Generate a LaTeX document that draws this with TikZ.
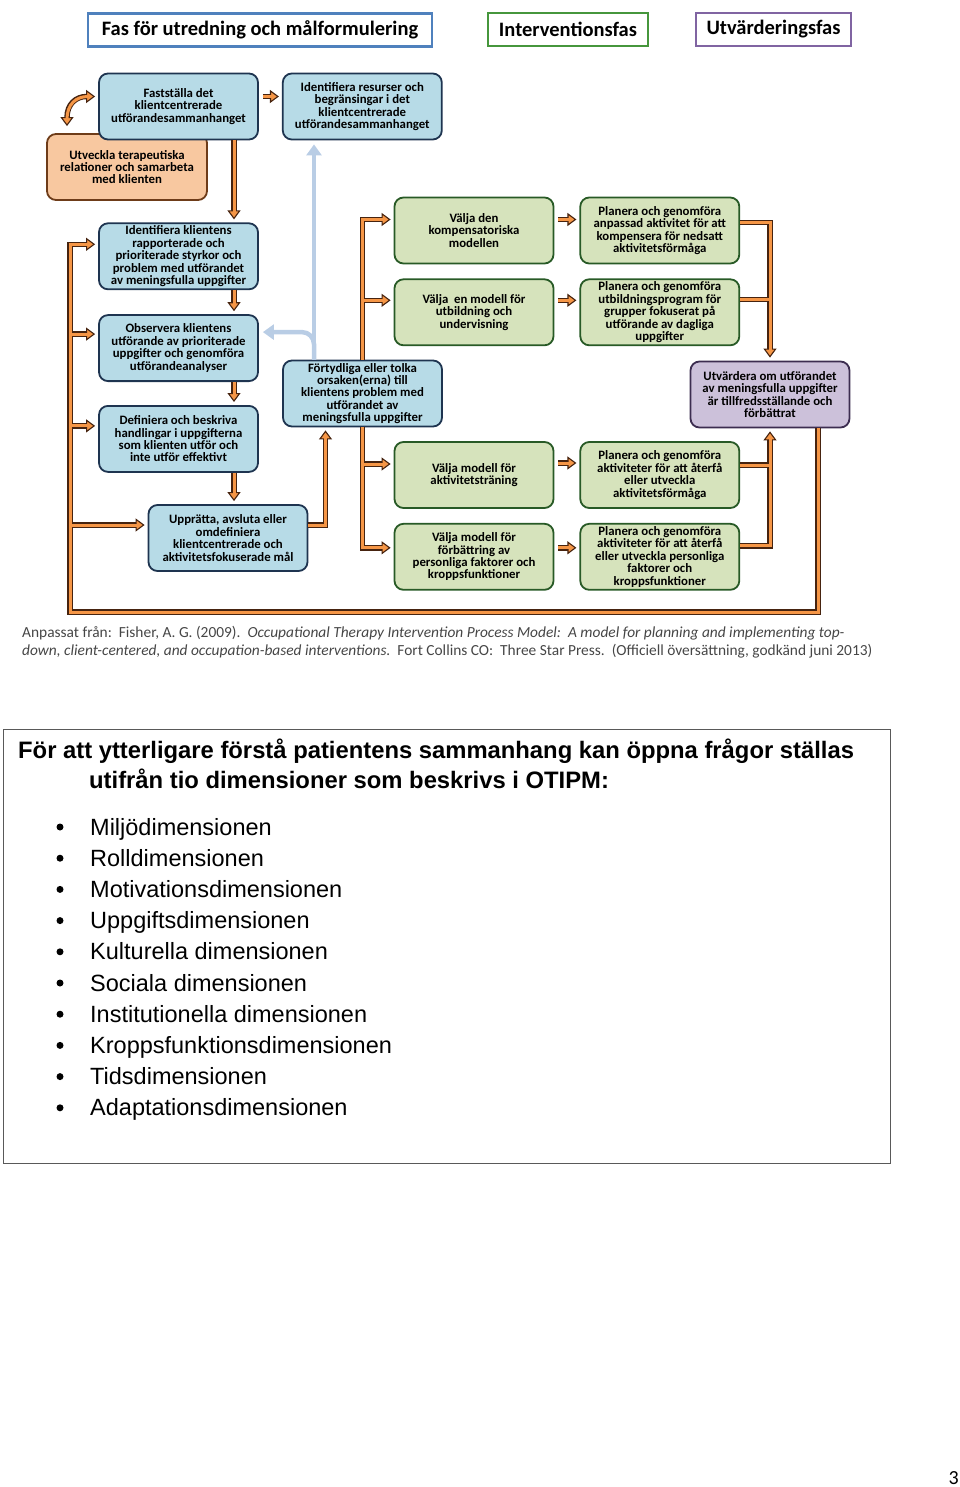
\documentclass[tikz,border=0pt]{standalone}
\usepackage{fontspec}
\setmainfont{Carlito}
\newfontfamily\arialfont{Liberation Sans}
\usetikzlibrary{arrows.meta, positioning, calc}

\definecolor{boxblue}{RGB}{183,219,231}
\definecolor{edgeblue}{RGB}{30,52,80}
\definecolor{boxgreen}{RGB}{214,227,188}
\definecolor{edgegreen}{RGB}{40,90,38}
\definecolor{boxpurple}{RGB}{204,193,218}
\definecolor{edgepurple}{RGB}{60,45,80}
\definecolor{boxorange}{RGB}{248,200,160}
\definecolor{edgeorange}{RGB}{110,60,25}
\definecolor{floworange}{RGB}{245,150,70}
\definecolor{flowedge}{RGB}{70,35,15}
\definecolor{backblue}{RGB}{185,205,229}
\definecolor{phaseblue}{RGB}{79,129,189}
\definecolor{phasegreen}{RGB}{70,150,60}
\definecolor{phasepurple}{RGB}{128,100,162}
\definecolor{captiongray}{RGB}{70,70,70}

\begin{document}
\begin{tikzpicture}[
		x=1pt, y=1pt,
		node distance=24pt and 25pt,
		box/.style={rectangle, rounded corners=9pt, line width=1.8pt, minimum width=159pt, minimum height=66pt, inner xsep=3pt, inner ysep=1pt, align=center, font=\fontsize{12.8}{12.4}\selectfont\bfseries},
		bluebox/.style={box, fill=boxblue, draw=edgeblue},
		greenbox/.style={box, fill=boxgreen, draw=edgegreen},
		purplebox/.style={box, fill=boxpurple, draw=edgepurple},
		orangebox/.style={box, fill=boxorange, draw=edgeorange, minimum width=160pt},
		phase/.style={rectangle, fill=white, line width=2.6pt, minimum height=33pt, font=\fontsize{20.5}{22}\selectfont\bfseries},
		>={Triangle[length=9pt, width=13pt, fill=floworange, line width=1.1pt]},
		flowout/.style={draw=flowedge, line width=5.4pt, shorten >=3pt, ->},
		flowin/.style={draw=floworange, line width=3pt, shorten >=10pt},
		plain/.style={-, shorten >=0pt},
		feedback/.style={draw=backblue, line width=4.5pt, shorten >=4pt, -{Triangle[length=11pt, width=15pt]}},
		caption/.style={anchor=base west, inner sep=0pt, text=captiongray, font=\fontsize{15.4}{18}\selectfont},
		listtext/.style={anchor=base west, inner sep=0pt, font=\arialfont\fontsize{23.5}{28}\selectfont},
		leadtext/.style={listtext, font=\arialfont\bfseries\fontsize{23.8}{28}\selectfont}
		]
		\useasboundingbox (0,0) rectangle (960,-1487);
		
		% Phases
		\node[phase, draw=phaseblue, minimum width=344pt] (fas1) at (260,-30) {Fas för utredning och målformulering};
		\node[phase, draw=phasegreen, minimum width=160pt] (fas2) at (568,-29.5) {Interventionsfas};
		\node[phase, draw=phasepurple, minimum width=155pt] (fas3) at (773.5,-29.5) {Utvärderingsfas};
		
		% Utredning och målformulering
		\node[orangebox] (o1) at (127,-167) {Utveckla terapeutiska\\relationer och samarbeta\\med klienten};
		\node[bluebox] (b1) at (178.5,-106.5) {Fastställa det\\klientcentrerade\\utförandesammanhanget};
		\node[bluebox, right=23pt of b1] (b2) {Identifiera resurser och\\begränsingar i det\\klientcentrerade\\utförandesammanhanget};
		\node[bluebox, below=82pt of b1] (b3) {Identifiera klientens\\rapporterade och\\prioriterade styrkor och\\problem med utförandet\\av meningsfulla uppgifter};
		\node[bluebox, below=24pt of b3] (b4) {Observera klientens\\utförande av prioriterade\\uppgifter och genomföra\\utförandeanalyser};
		\node[bluebox, below=23pt of b4] (b5) {Definiera och beskriva\\handlingar i uppgifterna\\som klienten utför och\\inte utför effektivt};
		\node[bluebox] (b6) at (228,-538) {Upprätta, avsluta eller\\omdefiniera\\klientcentrerade och\\aktivitetsfokuserade mål};
		\node[bluebox] (b7) at (362.5,-393.5) {Förtydliga eller tolka\\orsaken(erna) till\\klientens problem med\\utförandet av\\meningsfulla uppgifter};
		
		% Intervention
		\node[greenbox] (g1) at (474,-230.5) {Välja den\\kompensatoriska\\modellen};
		\node[greenbox, right=of g1] (g2) {Planera och genomföra\\anpassad aktivitet för att\\kompensera för nedsatt\\aktivitetsförmåga};
		\node[greenbox, below=14pt of g1] (g3) {Välja~~en modell för\\utbildning och\\undervisning};
		\node[greenbox, right=of g3] (g4) {Planera och genomföra\\utbildningsprogram för\\grupper fokuserat på\\utförande av dagliga\\uppgifter};
		\node[greenbox] (g5) at (474,-475) {Välja modell för\\aktivitetsträning};
		\node[greenbox, right=of g5] (g6) {Planera och genomföra\\aktiviteter för att återfå\\eller utveckla\\aktivitetsförmåga};
		\node[greenbox, below=14pt of g5] (g7) {Välja modell för\\förbättring av\\personliga faktorer och\\kroppsfunktioner};
		\node[greenbox, right=of g7] (g8) {Planera och genomföra\\aktiviteter för att återfå\\eller utveckla personliga\\faktorer och\\kroppsfunktioner};
		
		% Utvärdering
		\node[purplebox] (p1) at (770,-394.5) {Utvärdera om utförandet\\av meningsfulla uppgifter\\är tillfredsställande och\\förbättrat};
		
		% Connector points
		\coordinate (colx) at (234,0);
		\coordinate (loopx) at (70,0);
		\coordinate (loopy) at (0,-612);
		\coordinate (backx) at (314,0);
		\coordinate (b3in) at ([yshift=12pt]b3.west);
		\coordinate (b4in) at ([yshift=14pt]b4.west);
		\coordinate (b5in) at ([yshift=13pt]b5.west);
		\coordinate (b6in) at ([yshift=13pt]b6.west);
		\coordinate (b6out) at ([yshift=13pt]b6.east);
		\coordinate (b7in) at ([xshift=-37pt]b7.south);
		\coordinate (g1in) at ([yshift=11pt]g1.west);
		\coordinate (g3in) at ([yshift=12pt]g3.west);
		\coordinate (g5in) at ([yshift=11pt]g5.west);
		\coordinate (g7in) at ([yshift=9pt]g7.west);
		\coordinate (g2out) at ([yshift=8pt]g2.east);
		\coordinate (g4out) at ([yshift=13pt]g4.east);
		\coordinate (g6out) at ([yshift=10pt]g6.east);
		\coordinate (g8out) at ([yshift=11pt]g8.east);
		
		% Feedback (blue)
		\draw[feedback] (b7.north -| backx) -- (b2.south -| backx);
		\draw[feedback, rounded corners=12pt] (b7.north -| backx) |- ([yshift=16pt]b4.east);
		
		% Orange arrows, outline first
		\foreach \layer in {flowout, flowin} {
			\draw[\layer] ([shift={(4pt,10pt)}]b1.east) -- ([yshift=10pt]b2.west);
			\draw[\layer] (b1.south -| colx) -- (b3.north -| colx);
			\draw[\layer] (b3.south -| colx) -- (b4.north -| colx);
			\draw[\layer] (b4.south -| colx) -- (b5.north -| colx);
			\draw[\layer] (b5.south -| colx) -- (b6.north -| colx);
			\draw[\layer] (b6out) -| (b7in);
			\draw[\layer] ([xshift=48pt]p1.south) |- (loopx |- loopy) |- (b3in);
			\draw[\layer] (loopx |- b4in) -- (b4in);
			\draw[\layer] (loopx |- b5in) -- (b5in);
			\draw[\layer] (loopx |- b6in) -- (b6in);
			\draw[\layer] (b7.north) |- (g1in);
			\draw[\layer] (b7.north |- g3in) -- (g3in);
			\draw[\layer] (b7.south) |- (g7in);
			\draw[\layer] (b7.south |- g5in) -- (g5in);
			\draw[\layer] ([shift={(4pt,11pt)}]g1.east) -- ([yshift=11pt]g2.west);
			\draw[\layer] ([shift={(4pt,12pt)}]g3.east) -- ([yshift=12pt]g4.west);
			\draw[\layer] ([shift={(4pt,12pt)}]g5.east) -- ([yshift=12pt]g6.west);
			\draw[\layer] ([shift={(4pt,9pt)}]g7.east) -- ([yshift=9pt]g8.west);
			\draw[\layer] (g2out) -| (p1.north);
			\draw[\layer, plain] (g4out) -- (g4out -| p1.north);
			\draw[\layer] (g8out) -| (p1.south);
			\draw[\layer, plain] (g6out) -- (g6out -| p1.south);
		}
		\draw[flowout, <->, shorten <=3pt] ([shift={(-60pt,4pt)}]o1.north) .. controls +(0,25) and +(-22,0) .. ([yshift=10pt]b1.west);
		\draw[flowin, shorten <=10pt] ([shift={(-60pt,4pt)}]o1.north) .. controls +(0,25) and +(-22,0) .. ([yshift=10pt]b1.west);
		
		% Source
		\node[caption] (ref1) at (22,-637) {Anpassat från:~~Fisher, A. G. (2009).~~\textit{Occupational Therapy Intervention Process Model:~~A model for planning and implementing top-}};
		\node[caption] (ref2) at (22,-655) {\textit{down, client-centered, and occupation-based interventions.}~~Fort Collins CO:~~Three Star Press.~~(Officiell översättning, godkänd juni 2013)};
		
		% Dimensions
		\node[draw=black!65, line width=0.8pt, anchor=north west, minimum width=887pt, minimum height=434pt, inner sep=0pt] (infobox) at (3,-729) {};
		\node[leadtext] (lead1) at (18,-758) {För att ytterligare förstå patientens sammanhang kan öppna frågor ställas};
		\node[leadtext] (lead2) at (89,-788) {utifrån tio dimensioner som beskrivs i OTIPM:};
		\foreach \dimtext [count=\i] in {Miljödimensionen, Rolldimensionen, Motivationsdimensionen, Uppgiftsdimensionen, Kulturella dimensionen, Sociala dimensionen, Institutionella dimensionen, Kroppsfunktionsdimensionen, Tidsdimensionen, Adaptationsdimensionen} {
			\node[circle, fill=black, inner sep=0pt, minimum size=7pt] (dot\i) at (60,{-827-31.2*(\i-1)}) {};
			\node[listtext] (dim\i) at (90,{-835-31.2*(\i-1)}) {\dimtext};
		}
		
		% Page number
		\node[font=\fontsize{20}{24}\selectfont, anchor=base east, inner sep=0pt] (page) at (959,-1484) {3};
		
	\end{tikzpicture}
\end{document}
